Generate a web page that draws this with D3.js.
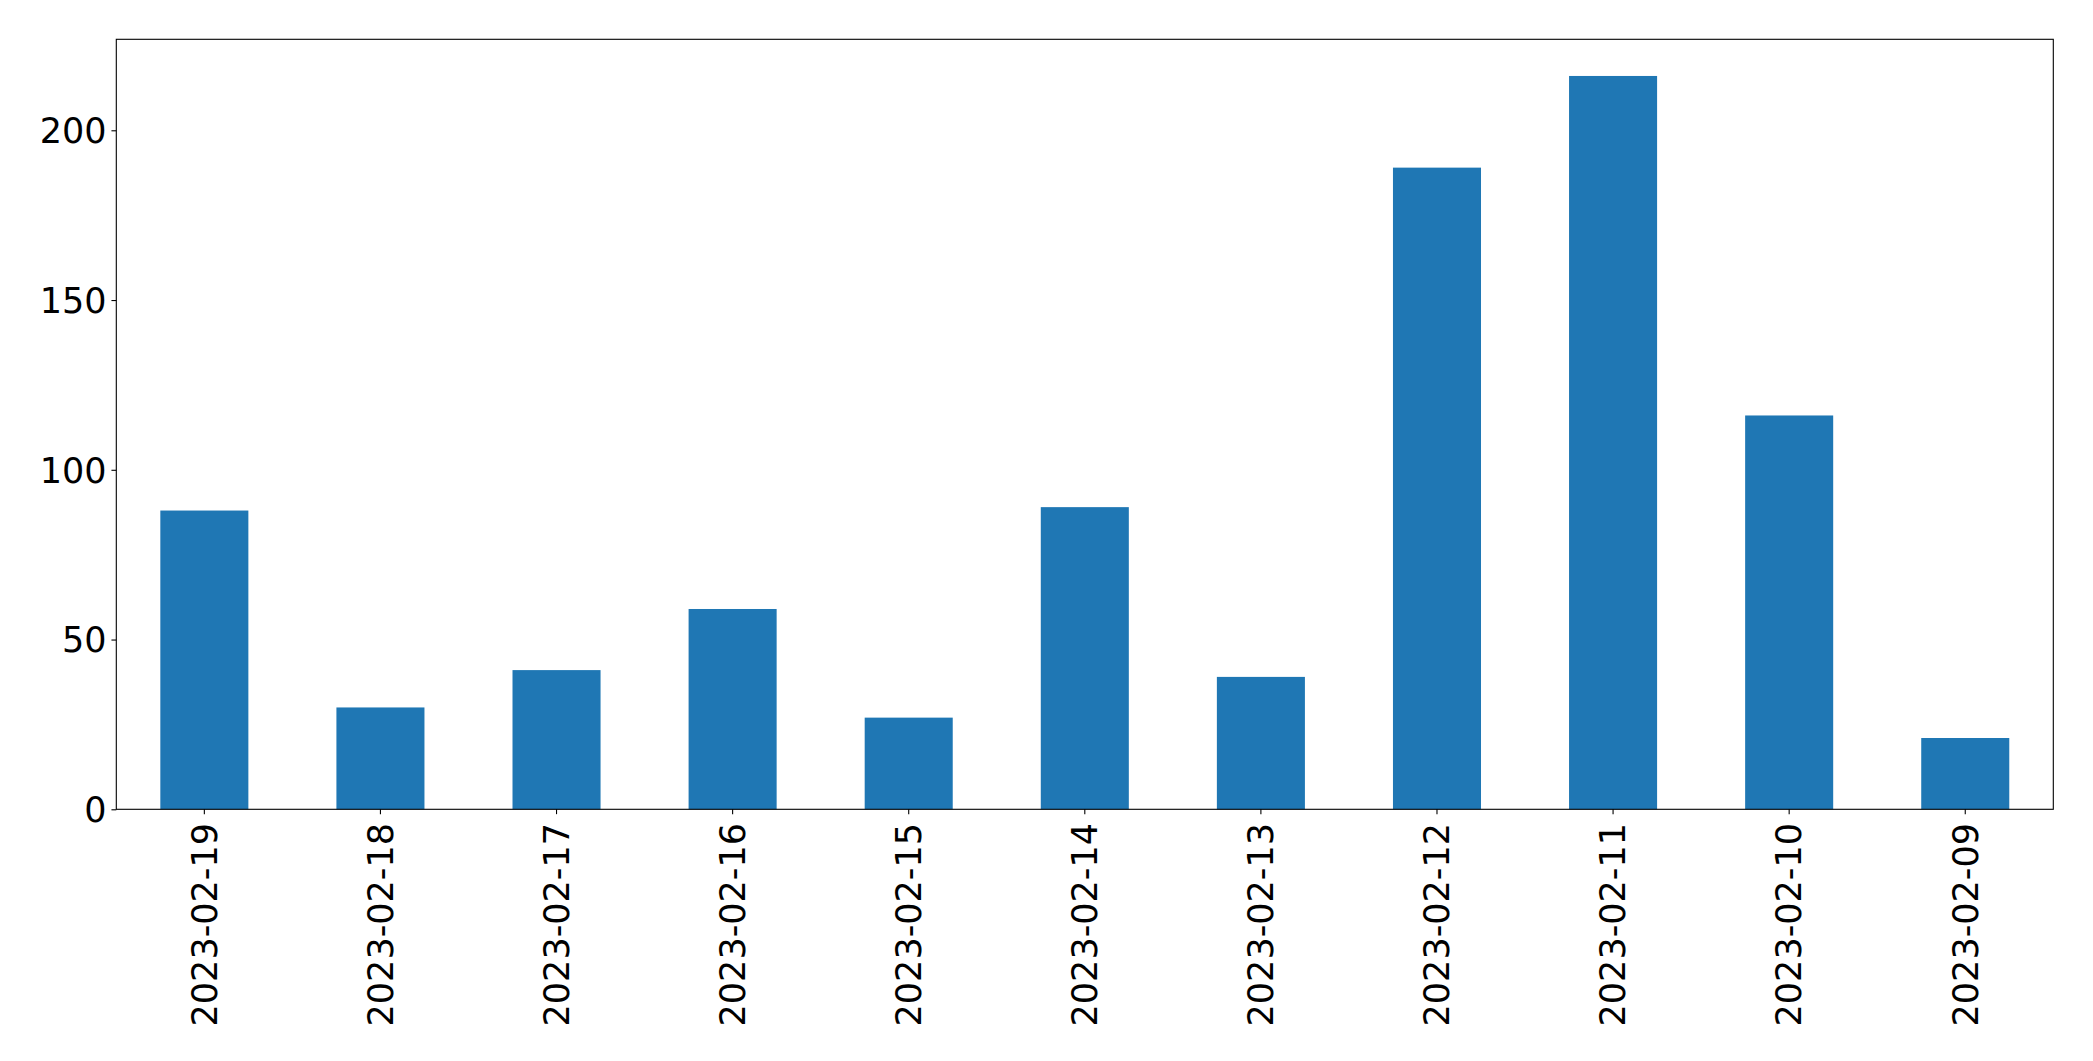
<!DOCTYPE html>
<html>
<head>
<meta charset="utf-8">
<script src="https://cdn.jsdelivr.net/npm/d3@7"></script>
<style>
  html, body { margin: 0; padding: 0; background: #fff; }
  svg { display: block; }
  text { font-family: "DejaVu Sans", sans-serif; fill: #000; }
</style>
</head>
<body>
<script>
const categories = ["2023-02-19","2023-02-18","2023-02-17","2023-02-16","2023-02-15","2023-02-14","2023-02-13","2023-02-12","2023-02-11","2023-02-10","2023-02-09"];
const values = [88, 30, 41, 59, 27, 89, 39, 189, 216, 116, 21];
const yTicks = [0, 50, 100, 150, 200];

const W = 2093, H = 1061;
const margin = {left: 116.3, top: 39.3, right: W - 2053.3, bottom: H - 809.3};
const iw = W - margin.left - margin.right;
const ih = H - margin.top - margin.bottom;
const fontSize = 35;
const tickLen = 4.86, pad = 4.86;

const svg = d3.select("body").append("svg").attr("width", W).attr("height", H);
const g = svg.append("g").attr("transform", `translate(${margin.left},${margin.top})`);

const x = d3.scaleBand().domain(categories).range([0, iw]).paddingInner(0.5).paddingOuter(0.25);
const y = d3.scaleLinear().domain([0, d3.max(values) * 1.05]).range([ih, 0]);

g.selectAll("rect.bar").data(values).enter().append("rect")
  .attr("class", "bar")
  .attr("x", (d, i) => x(categories[i]))
  .attr("width", x.bandwidth())
  .attr("y", d => y(d))
  .attr("height", d => ih - y(d))
  .attr("fill", "#1f77b4");

// frame
g.append("rect").attr("x", 0).attr("y", 0).attr("width", iw).attr("height", ih)
  .attr("fill", "none").attr("stroke", "#000").attr("stroke-width", 1.1);

// y axis
const yAxis = g.append("g").call(d3.axisLeft(y).tickValues(yTicks).tickSize(tickLen).tickPadding(pad).tickFormat(d3.format("d")));
yAxis.select(".domain").remove();
yAxis.selectAll(".tick line").attr("stroke", "#000").attr("stroke-width", 1.1);
yAxis.selectAll(".tick text").attr("font-size", fontSize).attr("font-family", "DejaVu Sans").attr("dy", "0.35em");

// x axis
const xAxis = g.append("g").attr("transform", `translate(0,${ih})`)
  .call(d3.axisBottom(x).tickSize(tickLen).tickPadding(pad));
xAxis.select(".domain").remove();
xAxis.selectAll(".tick line").attr("stroke", "#000").attr("stroke-width", 1.1);
xAxis.selectAll(".tick text")
  .attr("font-size", fontSize).attr("font-family", "DejaVu Sans")
  .attr("transform", "rotate(-90)")
  .attr("text-anchor", "end")
  .attr("x", -(tickLen + pad + 4))
  .attr("y", 0)
  .attr("dy", "0.35em");
</script>
</body>
</html>
